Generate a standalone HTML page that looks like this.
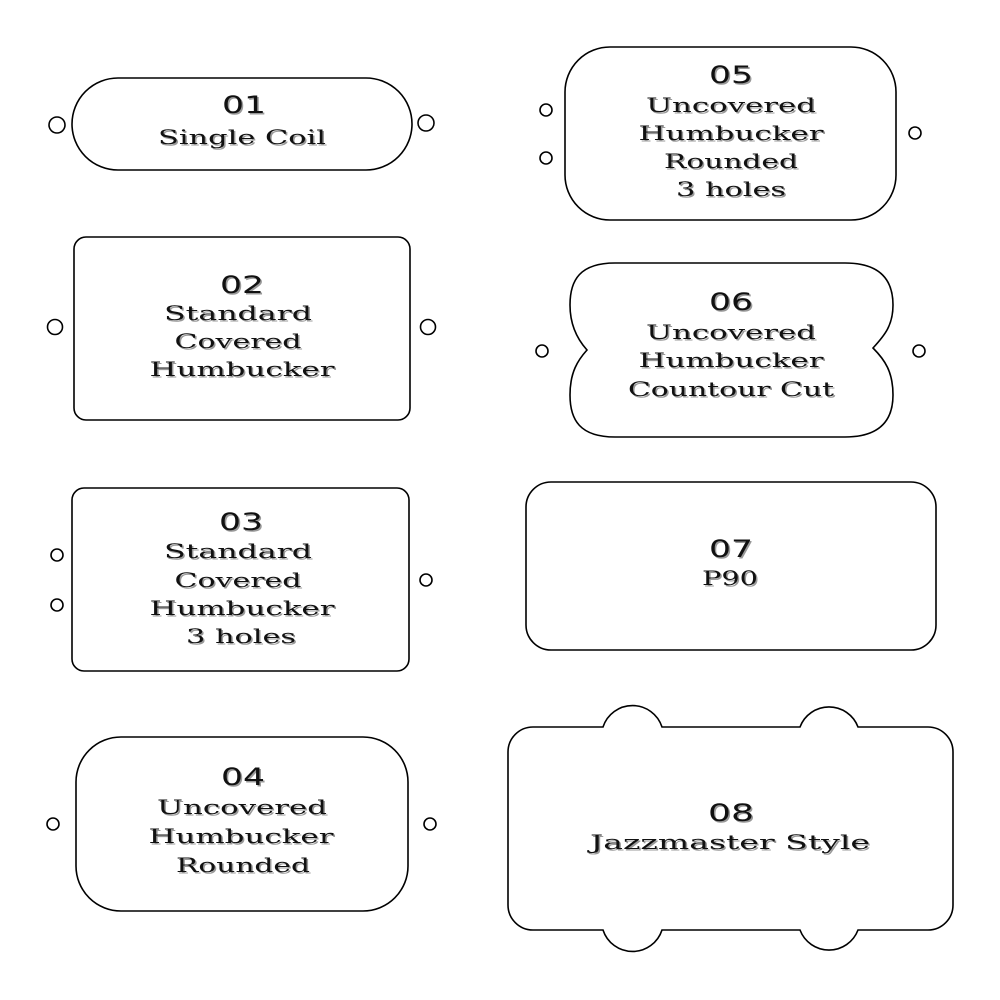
<!DOCTYPE html>
<html><head><meta charset="utf-8"><style>
html,body{margin:0;padding:0;background:#fff}
svg{display:block}
text{font-family:"DejaVu Serif","Liberation Serif",serif;font-size:20px;text-anchor:middle}
.n{font-family:"DejaVu Sans","Liberation Sans",sans-serif;font-size:24px}
</style></head><body>
<svg width="1000" height="1000" viewBox="0 0 1000 1000" xmlns="http://www.w3.org/2000/svg" xmlns:xlink="http://www.w3.org/1999/xlink">
<defs>
<g id="txt">
<text class="n" x="244" y="113" textLength="44" lengthAdjust="spacingAndGlyphs">01</text>
<text x="242" y="144" textLength="168" lengthAdjust="spacingAndGlyphs">Single Coil</text>
<text class="n" x="242" y="293" textLength="44" lengthAdjust="spacingAndGlyphs">02</text>
<text x="238" y="320" textLength="148" lengthAdjust="spacingAndGlyphs">Standard</text>
<text x="238" y="348" textLength="127" lengthAdjust="spacingAndGlyphs">Covered</text>
<text x="242" y="376" textLength="185" lengthAdjust="spacingAndGlyphs">Humbucker</text>
<text class="n" x="241" y="530" textLength="44" lengthAdjust="spacingAndGlyphs">03</text>
<text x="238" y="558" textLength="148" lengthAdjust="spacingAndGlyphs">Standard</text>
<text x="238" y="587" textLength="127" lengthAdjust="spacingAndGlyphs">Covered</text>
<text x="242" y="615" textLength="185" lengthAdjust="spacingAndGlyphs">Humbucker</text>
<text x="241" y="643" textLength="110" lengthAdjust="spacingAndGlyphs">3 holes</text>
<text class="n" x="243" y="785" textLength="44" lengthAdjust="spacingAndGlyphs">04</text>
<text x="242" y="814" textLength="170" lengthAdjust="spacingAndGlyphs">Uncovered</text>
<text x="241" y="843" textLength="185" lengthAdjust="spacingAndGlyphs">Humbucker</text>
<text x="243" y="872" textLength="134" lengthAdjust="spacingAndGlyphs">Rounded</text>
<text class="n" x="731" y="83" textLength="44" lengthAdjust="spacingAndGlyphs">05</text>
<text x="731" y="112" textLength="170" lengthAdjust="spacingAndGlyphs">Uncovered</text>
<text x="731" y="140" textLength="185" lengthAdjust="spacingAndGlyphs">Humbucker</text>
<text x="731" y="168" textLength="134" lengthAdjust="spacingAndGlyphs">Rounded</text>
<text x="731" y="196" textLength="110" lengthAdjust="spacingAndGlyphs">3 holes</text>
<text class="n" x="731" y="310" textLength="44" lengthAdjust="spacingAndGlyphs">06</text>
<text x="731" y="339" textLength="170" lengthAdjust="spacingAndGlyphs">Uncovered</text>
<text x="731" y="367" textLength="185" lengthAdjust="spacingAndGlyphs">Humbucker</text>
<text x="731" y="396" textLength="206" lengthAdjust="spacingAndGlyphs">Countour Cut</text>
<text class="n" x="731" y="557" textLength="44" lengthAdjust="spacingAndGlyphs">07</text>
<text x="730" y="585" textLength="56" lengthAdjust="spacingAndGlyphs">P90</text>
<text class="n" x="731" y="821" textLength="46" lengthAdjust="spacingAndGlyphs">08</text>
<text x="730" y="849" textLength="280" lengthAdjust="spacingAndGlyphs">Jazzmaster Style</text>
</g>
</defs>
<g fill="#fff" stroke="#000" stroke-width="1.6">
<rect x="72" y="78" width="340" height="92" rx="46"/>
<circle cx="57" cy="125" r="8"/><circle cx="426" cy="123" r="8"/>
<rect x="74" y="237" width="336" height="183" rx="12"/>
<circle cx="55" cy="327" r="7.5"/><circle cx="428" cy="327" r="7.5"/>
<rect x="72" y="488" width="337" height="183" rx="12"/>
<circle cx="57" cy="555" r="6"/><circle cx="57" cy="605" r="6"/><circle cx="426" cy="580" r="6"/>
<rect x="76" y="737" width="332" height="174" rx="45"/>
<circle cx="53" cy="824" r="6"/><circle cx="430" cy="824" r="6"/>
<rect x="565" y="47" width="331" height="173" rx="45"/>
<circle cx="546" cy="110" r="6"/><circle cx="546" cy="158" r="6"/><circle cx="915" cy="133" r="6"/>
<path d="M615,263 H845 C880,263 893,280 893,305 C893,325 885,335 873,348 C885,360 893,372 893,395 C893,420 880,437 845,437 H615 C580,437 570,420 570,395 C570,372 578,360 587,350 C578,340 570,325 570,305 C570,280 580,263 615,263 Z"/>
<circle cx="542" cy="351" r="6"/><circle cx="919" cy="351" r="6"/>
<rect x="526" y="482" width="410" height="168" rx="25"/>
<path d="M533,727 H603 A31,31 0 0 1 662,727 H800 A31,31 0 0 1 858,727 H928 A25,25 0 0 1 953,752 V905 A25,25 0 0 1 928,930 H858 A31,31 0 0 1 800,930 H662 A31,31 0 0 1 603,930 H533 A25,25 0 0 1 508,905 V752 A25,25 0 0 1 533,727 Z"/>
</g>
<use href="#txt" xlink:href="#txt" fill="#999" transform="translate(1.5,1.5)"/>
<use href="#txt" xlink:href="#txt" fill="#111"/>
</svg>
</body></html>
